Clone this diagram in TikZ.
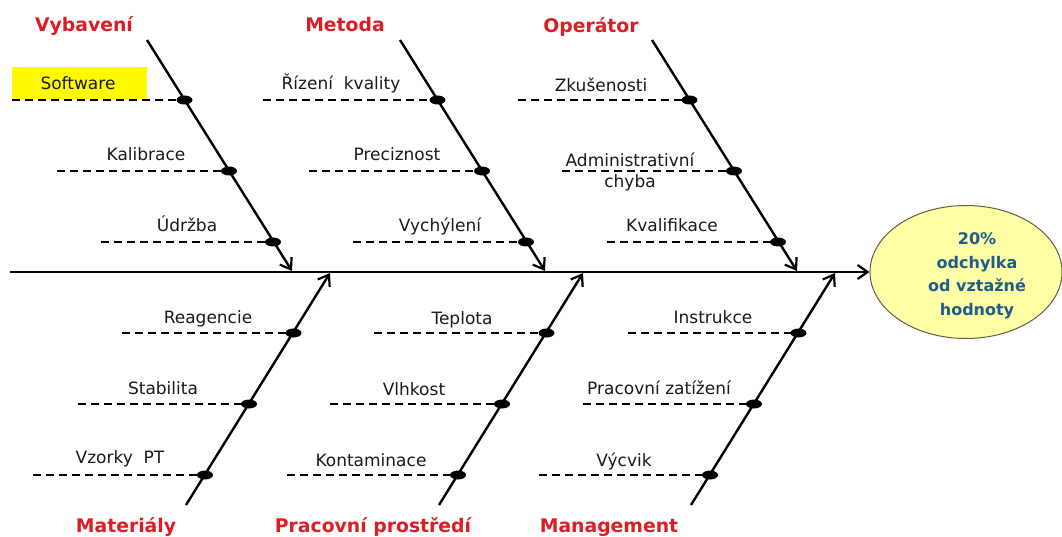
\documentclass[tikz,border=0pt]{standalone}
\usepackage{fontspec}
\setmainfont{DejaVu Sans}
\usetikzlibrary{arrows.meta,shapes.geometric}
\definecolor{catred}{RGB}{222,28,36}
\definecolor{efffill}{RGB}{255,255,165}
\definecolor{effdraw}{RGB}{95,95,70}
\definecolor{efftxt}{RGB}{30,92,140}
\definecolor{swyellow}{RGB}{255,250,0}
\definecolor{lbl}{RGB}{25,25,25}
\begin{document}
\begin{tikzpicture}[x=1pt,y=-1pt,
  spineline/.style={line width=2.6pt,-{Straight Barb[length=10pt,width=14pt,line width=2.2pt]}},
  boneline/.style={line width=2.4pt,-{Straight Barb[length=10pt,width=14pt,line width=2.2pt]}},
  subline/.style={line width=2.4pt,dash pattern=on 8pt off 5pt},
  bonedot/.style={ellipse,fill=black,minimum width=16pt,minimum height=9pt,inner sep=0pt},
  lab/.style={font=\fontsize{17}{21}\selectfont,text=lbl,anchor=base,inner sep=0pt},
  cat/.style={font=\fontsize{18.8}{22}\selectfont\bfseries,text=catred,anchor=base,inner sep=0pt},
  effect/.style={ellipse,draw=effdraw,line width=1pt,fill=efffill,minimum width=192pt,minimum height=133pt,inner sep=0pt},
  efftext/.style={font=\fontsize{16}{23.5}\selectfont\bfseries,text=efftxt,align=center,inner sep=0pt}
]
\path[use as bounding box] (0,0) rectangle (1062,537);

% effect
\node[effect] (effect) at (966,272) {};
\node[efftext] (efft) at (977,276) {20\%\\odchylka\\od vztažné\\hodnoty};

% spine
\coordinate (tail) at (10,272);
\draw[spineline] (tail) -- (effect.west);

% yellow box
\node[fill=swyellow,minimum width=135pt,minimum height=33pt,inner sep=0pt] (swbox) at (79.5,83.5) {};

% ---------- top bones ----------
\coordinate (vTop) at (147,40);   \coordinate (vTip) at (292,271);
\coordinate (mTop) at (400,40);   \coordinate (mTip) at (545,271);
\coordinate (oTop) at (652,40);   \coordinate (oTip) at (797,271);
\draw[boneline] (vTop) -- (vTip);
\draw[boneline] (mTop) -- (mTip);
\draw[boneline] (oTop) -- (oTip);

% ---------- bottom bones ----------
\coordinate (maBot) at (186,505); \coordinate (maTip) at (330,273);
\coordinate (prBot) at (439,505); \coordinate (prTip) at (583,273);
\coordinate (mgBot) at (691,505); \coordinate (mgTip) at (835,273);
\draw[boneline] (maBot) -- (maTip);
\draw[boneline] (prBot) -- (prTip);
\draw[boneline] (mgBot) -- (mgTip);

% ---------- dots ----------
\node[bonedot] (v1) at (184.5,100) {};
\node[bonedot] (v2) at (229,171) {};
\node[bonedot] (v3) at (273,242) {};
\node[bonedot] (m1) at (437.5,100) {};
\node[bonedot] (m2) at (482,171) {};
\node[bonedot] (m3) at (526,242) {};
\node[bonedot] (o1) at (689.5,100) {};
\node[bonedot] (o2) at (734,171) {};
\node[bonedot] (o3) at (778,242) {};
\node[bonedot] (ma1) at (293.5,333) {};
\node[bonedot] (ma2) at (249,404) {};
\node[bonedot] (ma3) at (205,475) {};
\node[bonedot] (pr1) at (546.5,333) {};
\node[bonedot] (pr2) at (502,404) {};
\node[bonedot] (pr3) at (458,475) {};
\node[bonedot] (mg1) at (798.5,333) {};
\node[bonedot] (mg2) at (754,404) {};
\node[bonedot] (mg3) at (710,475) {};

% ---------- dashed sub-causes ----------
\coordinate (sv1) at (12,100);  \draw[subline] (sv1) -- (v1.center);
\coordinate (sv2) at (57,171);  \draw[subline] (sv2) -- (v2.center);
\coordinate (sv3) at (101,242); \draw[subline] (sv3) -- (v3.center);
\coordinate (sm1) at (263,100); \draw[subline] (sm1) -- (m1.center);
\coordinate (sm2) at (309,171); \draw[subline] (sm2) -- (m2.center);
\coordinate (sm3) at (353,242); \draw[subline] (sm3) -- (m3.center);
\coordinate (so1) at (518,100); \draw[subline] (so1) -- (o1.center);
\coordinate (so2) at (562,171); \draw[subline] (so2) -- (o2.center);
\coordinate (so3) at (607,242); \draw[subline] (so3) -- (o3.center);
\coordinate (sma1) at (122,333); \draw[subline] (sma1) -- (ma1.center);
\coordinate (sma2) at (78,404);  \draw[subline] (sma2) -- (ma2.center);
\coordinate (sma3) at (33,475);  \draw[subline] (sma3) -- (ma3.center);
\coordinate (spr1) at (374,333); \draw[subline] (spr1) -- (pr1.center);
\coordinate (spr2) at (330,404); \draw[subline] (spr2) -- (pr2.center);
\coordinate (spr3) at (287,475); \draw[subline] (spr3) -- (pr3.center);
\coordinate (smg1) at (628,333); \draw[subline] (smg1) -- (mg1.center);
\coordinate (smg2) at (583,404); \draw[subline] (smg2) -- (mg2.center);
\coordinate (smg3) at (539,475); \draw[subline] (smg3) -- (mg3.center);

% ---------- labels ----------
\node[lab] (tsw)  at (78,90)   {Software};
\node[lab] (tkal) at (146,161) {Kalibrace};
\node[lab] (tudr) at (187,232) {Údržba};
\node[lab] (triz) at (341,90)  {Řízení\ \ kvality};
\node[lab] (tpre) at (397,161) {Preciznost};
\node[lab] (tvyc) at (440,232) {Vychýlení};
\node[lab] (tzku) at (601,92)  {Zkušenosti};
\node[lab,anchor=center,align=center,font=\fontsize{17}{21}\selectfont] (tadm) at (630,172) {Administrativní\\chyba};
\node[lab] (tkva) at (672,232) {Kvalifikace};
\node[lab] (trea) at (208,323) {Reagencie};
\node[lab] (tsta) at (163,394) {Stabilita};
\node[lab] (tvzo) at (120,463) {Vzorky\ \ PT};
\node[lab] (ttep) at (462,324) {Teplota};
\node[lab] (tvlh) at (414,395) {Vlhkost};
\node[lab] (tkon) at (371,466) {Kontaminace};
\node[lab] (tins) at (713,323) {Instrukce};
\node[lab] (tpza) at (659,394) {Pracovní zatížení};
\node[lab] (tvyk) at (624,466) {Výcvik};

% ---------- categories ----------
\node[cat] (cvyb) at (84,32)   {Vybavení};
\node[cat] (cmet) at (345,32)  {Metoda};
\node[cat] (cope) at (591,33)  {Operátor};
\node[cat] (cmat) at (126,532) {Materiály};
\node[cat] (cpra) at (373,532) {Pracovní prostředí};
\node[cat] (cman) at (609,532) {Management};
\end{tikzpicture}
\end{document}
